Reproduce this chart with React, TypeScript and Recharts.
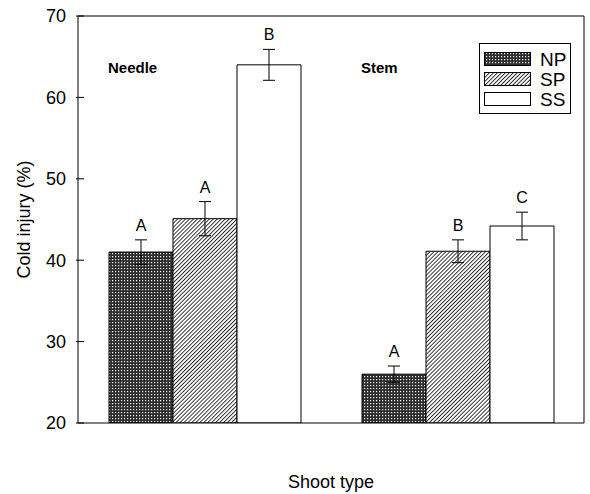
import { BarChart, Bar, XAxis, YAxis, ErrorBar, LabelList, Legend, ReferenceLine } from "recharts";

const shootTypes = ["Needle", "Stem"];
const npValues = [41.0, 26.0];
const npErrors = [1.5, 1.0];
const spValues = [45.1, 41.1];
const spErrors = [2.1, 1.4];
const ssValues = [64.0, 44.2];
const ssErrors = [1.9, 1.7];
const npLetters = ["A", "A"];
const spLetters = ["A", "B"];
const ssLetters = ["B", "C"];
const yTicks = [20, 30, 40, 50, 60, 70];

const Y_MIN = 20;
const Y_MAX = 70;
const FONT = "'Liberation Sans', Arial, sans-serif";

const data = shootTypes.map((name, i) => ({
  name,
  NP: npValues[i],
  npErr: npErrors[i],
  SP: spValues[i],
  spErr: spErrors[i],
  SS: ssValues[i],
  ssErr: ssErrors[i],
}));

const fills: Record<string, string> = { NP: "np", SP: "sp", SS: "" };

function Patterns({ prefix }: { prefix: string }) {
  return (
    <defs>
      <pattern id={`${prefix}np`} width={3} height={3} patternUnits="userSpaceOnUse">
        <rect width={3} height={3} fill="#2e2e2e" />
        <rect x={1} y={1} width={1.2} height={1.2} fill="#f0f0f0" />
      </pattern>
      <pattern id={`${prefix}sp`} width={2.8} height={10} patternUnits="userSpaceOnUse" patternTransform="rotate(45)">
        <rect width={2.8} height={10} fill="#fff" />
        <rect width={0.9} height={10} fill="#222" />
      </pattern>
    </defs>
  );
}

const fillFor = (key: string, prefix: string) => (fills[key] ? `url(#${prefix}${fills[key]})` : "#fff");

// letter above each error bar, placed with the bar's own px-per-unit
const letterLabel = (values: number[], errors: number[], letters: string[]) => (props: any) => {
  const { x, y, width, height, index } = props;
  const ppu = Math.abs(height) / (values[index] - Y_MIN);
  const capY = y - errors[index] * ppu;
  return (
    <text key={`l${index}`} x={x + width / 2} y={capY - 9} textAnchor="middle" fontSize={16} fontFamily={FONT} fill="#000">
      {letters[index]}
    </text>
  );
};

// panel name ("Needle" / "Stem") near the top of each half
const panelLabel = (props: any) => {
  const { x, y, height, index } = props;
  const ppu = Math.abs(height) / (npValues[index] - Y_MIN);
  const top = y + height - (Y_MAX - Y_MIN) * ppu;
  return (
    <text key={`p${index}`} x={x - 1} y={top + 56.5} fontSize={15} fontWeight="bold" fontFamily={FONT} fill="#000">
      {shootTypes[index]}
    </text>
  );
};

const YTick = (props: any) => {
  const { x, y, payload } = props;
  return (
    <g>
      <line x1={x} x2={x + 8} y1={y} y2={y} stroke="#000" />
      <text x={x - 10} y={y} dy="0.36em" textAnchor="end" fontSize={18} fontFamily={FONT} fill="#000">
        {payload.value}
      </text>
    </g>
  );
};

const renderLegend = (props: any) => {
  const items = props.payload || [];
  return (
    <svg width={92} height={71} style={{ display: "block" }}>
      <Patterns prefix="lg-" />
      <rect x={0.5} y={0.5} width={91} height={70} fill="#fff" stroke="#000" />
      {items.map((item: any, i: number) => (
        <g key={item.value}>
          <rect x={5.5} y={9.5 + i * 20} width={46} height={13} fill={fillFor(item.dataKey, "lg-")} stroke="#000" />
          <text x={61} y={23 + i * 20} fontSize={19} fontFamily={FONT} fill="#000">
            {item.value}
          </text>
        </g>
      ))}
    </svg>
  );
};

export default function App() {
  return (
    <div style={{ position: "absolute", left: 0, top: 0, background: "#fff" }}>
      <BarChart width={590} height={494} data={data} margin={{ top: 16, right: 6, left: 0, bottom: 0 }} barGap={0}>
        <Patterns prefix="" />
        <XAxis
          dataKey="name"
          height={71}
          tick={false}
          tickLine={false}
          axisLine={{ stroke: "#000" }}
          label={{
            content: (p: any) => {
              const vb = p.viewBox;
              return (
                <text x={vb.x + vb.width / 2} y={vb.y + vb.height - 6} textAnchor="middle" fontSize={18} fontFamily={FONT} fill="#000">
                  Shoot type
                </text>
              );
            },
          }}
        />
        <XAxis xAxisId="div" type="number" domain={[0, 2]} hide />
        <YAxis
          type="number"
          domain={[Y_MIN, Y_MAX]}
          ticks={yTicks}
          width={78}
          tickSize={0}
          tickLine={false}
          tick={<YTick />}
          axisLine={{ stroke: "#000" }}
          allowDataOverflow
          label={{
            content: (p: any) => {
              const vb = p.viewBox;
              const cx = 24;
              const cy = vb.y + vb.height / 2;
              return (
                <text x={cx} y={cy} transform={`rotate(-90 ${cx} ${cy})`} dy="0.35em" textAnchor="middle" fontSize={18} fontFamily={FONT} fill="#000">
                  Cold injury (%)
                </text>
              );
            },
          }}
        />
        <ReferenceLine y={Y_MAX} stroke="#000" />
        <ReferenceLine x={1} xAxisId="div" stroke="#000" />
        <ReferenceLine x={2} xAxisId="div" stroke="#000" />
        <Legend
          layout="vertical"
          align="center"
          verticalAlign="middle"
          content={renderLegend}
          wrapperStyle={{ position: "absolute", left: 479, top: 43, width: 92, height: 71 }}
        />
        <Bar dataKey="NP" name="NP" barSize={64} fill={fillFor("NP", "")} stroke="#000" strokeWidth={1} isAnimationActive={false}>
          <ErrorBar dataKey="npErr" width={6} stroke="#000" strokeWidth={1} direction="y" />
          <LabelList dataKey="NP" content={letterLabel(npValues, npErrors, npLetters)} />
          <LabelList dataKey="name" content={panelLabel} />
        </Bar>
        <Bar dataKey="SP" name="SP" barSize={64} fill={fillFor("SP", "")} stroke="#000" strokeWidth={1} isAnimationActive={false}>
          <ErrorBar dataKey="spErr" width={6} stroke="#000" strokeWidth={1} direction="y" />
          <LabelList dataKey="SP" content={letterLabel(spValues, spErrors, spLetters)} />
        </Bar>
        <Bar dataKey="SS" name="SS" barSize={64} fill={fillFor("SS", "")} stroke="#000" strokeWidth={1} isAnimationActive={false}>
          <ErrorBar dataKey="ssErr" width={6} stroke="#000" strokeWidth={1} direction="y" />
          <LabelList dataKey="SS" content={letterLabel(ssValues, ssErrors, ssLetters)} />
        </Bar>
      </BarChart>
    </div>
  );
}
